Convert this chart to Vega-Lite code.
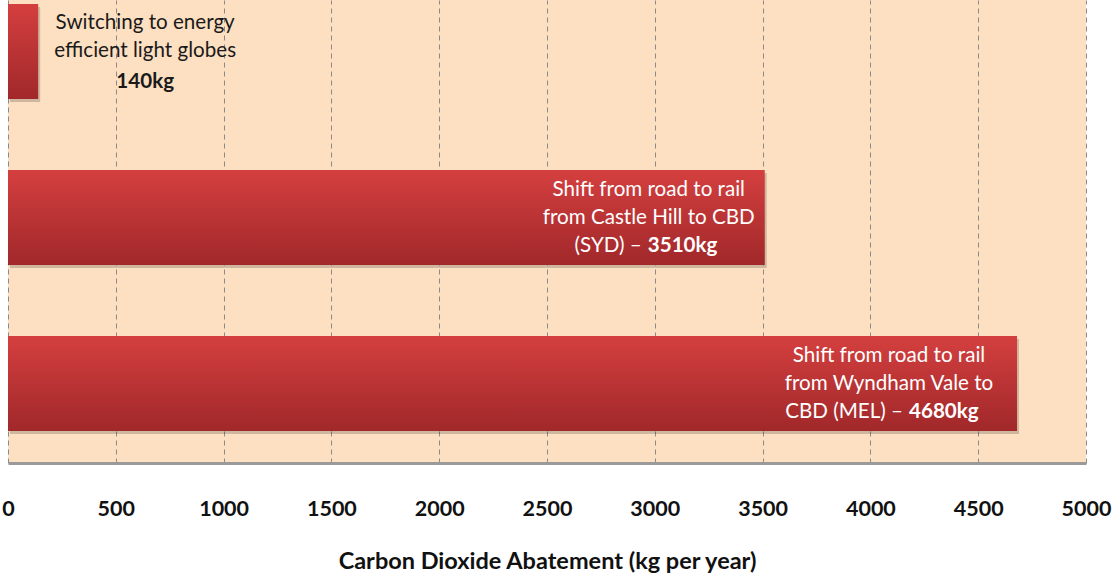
{
  "$schema": "https://vega.github.io/schema/vega-lite/v6.json",
  "width": 1078,
  "height": 463,
  "autosize": {"type": "none"},
  "padding": {"left": 8, "top": 0, "right": 32, "bottom": 121},
  "background": "white",
  "view": {"fill": "#FDDFC1", "stroke": null},
  "config": {"font": "Lato"},
  "data": {
    "values": [
      {"item": "a", "value": 140, "l12": "Switching to energy\nefficient light globes", "l3a": "", "l3b": "140kg"},
      {"item": "b", "value": 3510, "l12": "Shift from road to rail\nfrom Castle Hill to CBD", "l3a": "(SYD) –", "l3b": "3510kg"},
      {"item": "c", "value": 4680, "l12": "Shift from road to rail\nfrom Wyndham Vale to", "l3a": "CBD (MEL) –", "l3b": "4680kg"}
    ]
  },
  "encoding": {
    "y": {
      "field": "item", "type": "nominal", "sort": null,
      "scale": {"paddingInner": 0.428, "paddingOuter": 0.108, "align": 0.11},
      "axis": null
    },
    "x": {
      "field": "value", "type": "quantitative",
      "scale": {"domain": [0, 5000], "nice": false},
      "axis": {
        "values": [0, 500, 1000, 1500, 2000, 2500, 3000, 3500, 4000, 4500, 5000],
        "format": "d",
        "grid": true, "gridDash": [5, 4], "gridColor": "#8a8a8a", "gridWidth": 1,
        "ticks": false, "domainColor": "#9a9a9a", "domainWidth": 3,
        "labelFont": "Lato", "labelFontWeight": "bold", "labelFontSize": 21.5, "labelColor": "#111",
        "labelPadding": 35, "labelFlush": false,
        "title": "Carbon Dioxide Abatement (kg per year)",
        "titleFont": "Lato", "titleFontWeight": "bold", "titleFontSize": 23.5, "titleColor": "#111",
        "titlePadding": 30
      }
    }
  },
  "layer": [
    {"mark": {"type": "bar", "color": "#000", "opacity": 0.18, "xOffset": 2, "yOffset": 3}},
    {"mark": {"type": "bar", "color": {"gradient": "linear", "x1": 0, "y1": 0, "x2": 0, "y2": 1,
      "stops": [{"offset": 0, "color": "#D43F3F"}, {"offset": 1, "color": "#A1282A"}]}}},
    {"transform": [{"filter": "datum.item == 'a'"}], "layer": [
      {"mark": {"type": "text", "lineBreak": "\n", "lineHeight": 28, "fontSize": 20.6, "color": "#1a1a1a", "align": "center", "baseline": "middle", "dx": 107, "dy": -28},
       "encoding": {"text": {"field": "l12"}}},
      {"mark": {"type": "text", "fontSize": 20.6, "fontWeight": "bold", "color": "#1a1a1a", "align": "center", "baseline": "middle", "dx": 107, "dy": 31},
       "encoding": {"text": {"field": "l3b"}}}
    ]},
    {"transform": [{"filter": "datum.item == 'b'"}], "layer": [
      {"mark": {"type": "text", "lineBreak": "\n", "lineHeight": 28, "fontSize": 20.6, "color": "white", "align": "center", "baseline": "middle", "dx": -116, "dy": -28},
       "encoding": {"text": {"field": "l12"}}},
      {"mark": {"type": "text", "fontSize": 20.6, "color": "white", "align": "right", "baseline": "middle", "dx": -123, "dy": 28},
       "encoding": {"text": {"field": "l3a"}}},
      {"mark": {"type": "text", "fontSize": 20.6, "fontWeight": "bold", "color": "white", "align": "left", "baseline": "middle", "dx": -117, "dy": 28},
       "encoding": {"text": {"field": "l3b"}}}
    ]},
    {"transform": [{"filter": "datum.item == 'c'"}], "layer": [
      {"mark": {"type": "text", "lineBreak": "\n", "lineHeight": 28, "fontSize": 20.6, "color": "white", "align": "center", "baseline": "middle", "dx": -128, "dy": -28},
       "encoding": {"text": {"field": "l12"}}},
      {"mark": {"type": "text", "fontSize": 20.6, "color": "white", "align": "right", "baseline": "middle", "dx": -114, "dy": 28},
       "encoding": {"text": {"field": "l3a"}}},
      {"mark": {"type": "text", "fontSize": 20.6, "fontWeight": "bold", "color": "white", "align": "left", "baseline": "middle", "dx": -108, "dy": 28},
       "encoding": {"text": {"field": "l3b"}}}
    ]}
  ]
}
